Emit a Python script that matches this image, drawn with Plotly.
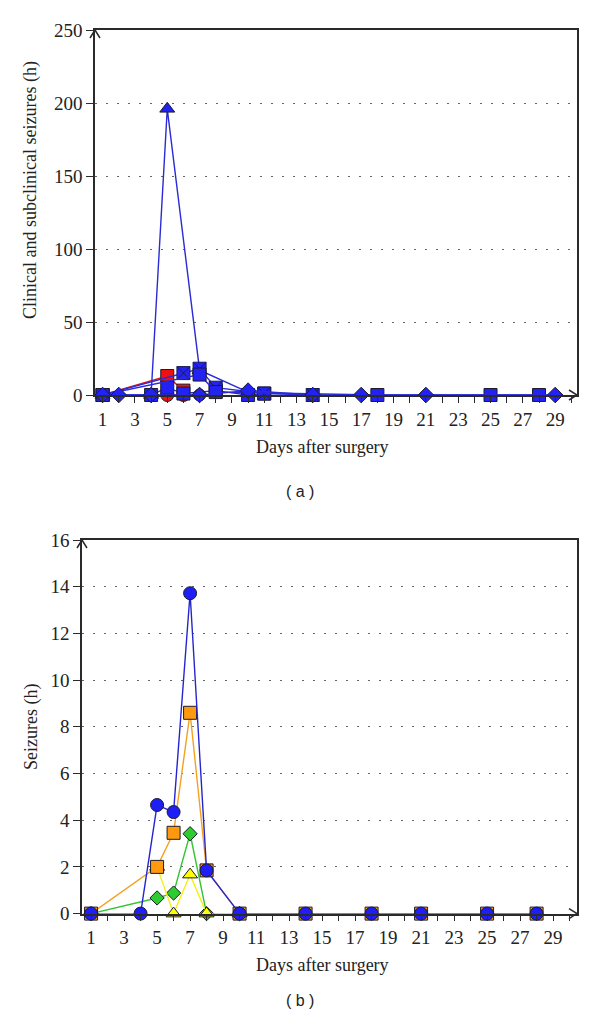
import plotly.graph_objects as go

# ---------------- Panel (a) data ----------------
a_red_sq_days = [1, 5, 6]
a_red_sq_vals = [0, 13, 3]
a_red_circ_days = [5, 6]
a_red_circ_vals = [0, 0]
a_tri_days = [1, 4, 5, 7, 10]
a_tri_vals = [0, 0, 196, 17, 2]
a_xsq_days = [1, 6, 7, 8, 11, 14]
a_xsq_vals = [0, 15, 18, 5, 1, 0]
a_sq_days = [1, 7, 8, 18, 25, 28]
a_sq_vals = [0, 14, 2, 0, 0, 0]
a_sq2_days = [4, 5, 6, 8, 10, 11]
a_sq2_vals = [0, 5, 1, 3, 0, 1]
a_dia_days = [1, 2, 4, 7, 10, 14, 17, 21, 29]
a_dia_vals = [0, 0, 0, 0, 3, 0, 0, 0, 0]
a_circ_days = [7]
a_circ_vals = [0]

# ---------------- Panel (b) data ----------------
b_orange_days = [1, 5, 6, 7, 8, 10, 14, 18, 21, 25, 28]
b_orange_vals = [0, 2.0, 3.46, 8.6, 1.85, 0, 0, 0, 0, 0, 0]
b_green_days = [1, 5, 6, 7, 8, 10]
b_green_vals = [0, 0.67, 0.88, 3.42, 0, 0]
b_yellow_days = [5, 6, 7, 8, 10]
b_yellow_vals = [2.0, 0, 1.67, 0, 0]
b_blue_days = [1, 4, 5, 6, 7, 8, 10, 14, 18, 21, 25, 28]
b_blue_vals = [0, 0, 4.65, 4.35, 13.72, 1.85, 0, 0, 0, 0, 0, 0]

a_yticks = [0, 50, 100, 150, 200, 250]
b_yticks = [0, 2, 4, 6, 8, 10, 12, 14, 16]
x_ticks = list(range(1, 30, 2))

W, H = 600, 1027
EDGE = "#1c1c2c"
BLUE = "#2222f5"
BLUE_L = "#2a2ad6"
RED = "#ee1111"

fig = go.Figure()


def add(x, y, xa, ya, symbol, fill, line, size, edge=EDGE):
    fig.add_trace(go.Scatter(
        x=x, y=y, xaxis=xa, yaxis=ya, mode="lines+markers",
        line=dict(color=line, width=1.4),
        marker=dict(symbol=symbol, color=fill, size=size,
                    line=dict(color=edge, width=1)),
        cliponaxis=False, showlegend=False, hoverinfo="x+y"))


# panel a traces
add(a_red_circ_days, a_red_circ_vals, "x", "y", "circle", RED, RED, 13)
add(a_red_sq_days, a_red_sq_vals, "x", "y", "square", RED, RED, 13)
add(a_tri_days, a_tri_vals, "x", "y", "triangle-up", BLUE, BLUE_L, 13)
add(a_sq2_days, a_sq2_vals, "x", "y", "square", BLUE, BLUE_L, 13)
add(a_xsq_days, a_xsq_vals, "x", "y", "square-x", BLUE, BLUE_L, 13, edge="#1a1a55")
add(a_sq_days, a_sq_vals, "x", "y", "square", BLUE, BLUE_L, 13)
add(a_circ_days, a_circ_vals, "x", "y", "circle", BLUE, BLUE_L, 12)
add(a_dia_days, a_dia_vals, "x", "y", "diamond", BLUE, BLUE_L, 12)

# panel b traces
add(b_green_days, b_green_vals, "x2", "y2", "diamond", "#2ecc2e", "#33c433", 11)
add(b_yellow_days, b_yellow_vals, "x2", "y2", "triangle-up", "#ffff00", "#f2f21a", 13)
add(b_orange_days, b_orange_vals, "x2", "y2", "square", "#ff9a10", "#f5a020", 13)
add(b_blue_days, b_blue_vals, "x2", "y2", "circle", "#1f1ff5", "#2525d0", 13)


def px_x(p):
    return p / W


def px_y(p):
    return 1 - p / H


axis_common = dict(showline=True, linecolor="#2a2a2a", linewidth=1.5, mirror=True,
                   zeroline=False, ticks="outside", tickcolor="#2a2a2a", automargin=False,
                   tickfont=dict(family="Liberation Serif", size=19, color="#222"))

# geometry (pixels)
A_L, A_R, A_T, A_B = 95, 577, 30, 395
B_L, B_R, B_T, B_B = 82, 577, 540, 913.6

fig.update_layout(
    width=W, height=H, margin=dict(l=0, r=0, t=0, b=0, autoexpand=False),
    paper_bgcolor="white", plot_bgcolor="white",
    xaxis=dict(domain=[px_x(A_L), px_x(A_R)], range=[0.53, 30.35], anchor="y",
               tickvals=x_ticks, ticklen=6, showgrid=False,
               minor=dict(dtick=1, tick0=0, ticks="outside", ticklen=6, tickcolor="#2a2a2a", showgrid=False),
               **axis_common),
    yaxis=dict(domain=[px_y(A_B), px_y(A_T)], range=[0, 250], anchor="x",
               tickvals=a_yticks, ticklen=7, showgrid=True, gridcolor="#666",
               griddash="2px,9px", gridwidth=1, **axis_common),
    xaxis2=dict(domain=[px_x(B_L), px_x(B_R)], range=[0.45, 30.45], anchor="y2",
                tickvals=x_ticks, ticklen=6, showgrid=False,
                minor=dict(dtick=1, tick0=0, ticks="outside", ticklen=6, tickcolor="#2a2a2a", showgrid=False),
                **axis_common),
    yaxis2=dict(domain=[px_y(B_B), px_y(B_T)], range=[0, 16], anchor="x2",
                tickvals=b_yticks, ticklen=7, showgrid=True, gridcolor="#666",
                griddash="2px,9px", gridwidth=1, **axis_common),
)

serif = dict(family="Liberation Serif", size=18, color="#222")
sans = dict(family="Liberation Sans", size=16, color="#222")
ann = [
    dict(text="Clinical and subclinical seizures (h)", x=px_x(31), y=px_y(190),
         textangle=-90, font=serif),
    dict(text="Days after surgery", x=px_x(322), y=px_y(447), font=serif),
    dict(text="( a )", x=px_x(300), y=px_y(492), font=sans),
    dict(text="Seizures (h)", x=px_x(31), y=px_y(727), textangle=-90, font=serif),
    dict(text="Days after surgery", x=px_x(322), y=px_y(965), font=serif),
    dict(text="( b )", x=px_x(300), y=px_y(1000), font=sans),
]
for a in ann:
    a.update(xref="paper", yref="paper", showarrow=False, xanchor="center", yanchor="middle")
fig.update_layout(annotations=ann)


def chevron(points):
    d = "M " + " L ".join(f"{px_x(x)},{px_y(y)}" for x, y in points)
    return dict(type="path", path=d, xref="paper", yref="paper",
                line=dict(color="#2a2a2a", width=1.5))


shapes = [
    chevron([(A_L - 5, A_T + 8), (A_L, A_T), (A_L + 5, A_T + 8)]),
    chevron([(A_R - 8, A_B - 5), (A_R, A_B), (A_R - 8, A_B + 5)]),
    chevron([(B_L - 5, B_T + 8), (B_L, B_T), (B_L + 5, B_T + 8)]),
    chevron([(B_R - 8, B_B - 5), (B_R, B_B), (B_R - 8, B_B + 5)]),
]
fig.update_layout(shapes=shapes)

fig.write_html("out.html", config={"displayModeBar": False},
               post_script="document.body.style.margin='0px';document.body.style.overflow='hidden';")
